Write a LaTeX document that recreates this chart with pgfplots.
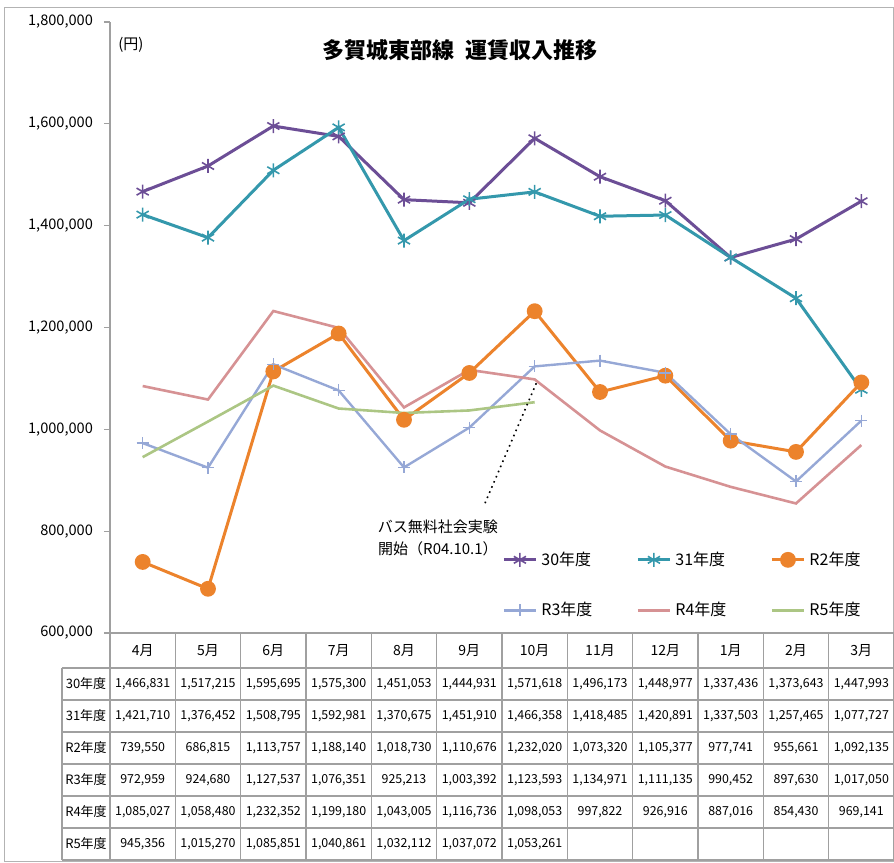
\documentclass[border=0pt]{standalone}
\usepackage{fontspec}
\setmainfont{Noto Sans CJK JP}
\usepackage{pgfplots}
\pgfplotsset{compat=1.18}
\usepackage{pgfplotstable}

\definecolor{c30}{RGB}{108,78,150}
\definecolor{c31}{RGB}{52,152,172}
\definecolor{cr2}{RGB}{236,131,44}
\definecolor{cr3}{RGB}{150,168,214}
\definecolor{cr4}{RGB}{214,146,148}
\definecolor{cr5}{RGB}{172,198,132}
\definecolor{grid}{RGB}{160,160,160}

\pgfplotstableread{
m y30 y31 r2 r3 r4 r5
1 1466831 1421710 739550 972959 1085027 945356
2 1517215 1376452 686815 924680 1058480 1015270
3 1595695 1508795 1113757 1127537 1232352 1085851
4 1575300 1592981 1188140 1076351 1199180 1040861
5 1451053 1370675 1018730 925213 1043005 1032112
6 1444931 1451910 1110676 1003392 1116736 1037072
7 1571618 1466358 1232020 1123593 1098053 1053261
8 1496173 1418485 1073320 1134971 997822 nan
9 1448977 1420891 1105377 1111135 926916 nan
10 1337436 1337503 977741 990452 887016 nan
11 1373643 1257465 955661 897630 854430 nan
12 1447993 1077727 1092135 1017050 969141 nan
}\datatable

\begin{document}
\begin{tikzpicture}
\useasboundingbox (-55pt,-114.5pt) rectangle (392pt,316.5pt);
\draw[grid!80, line width=0.5pt] (-52.5pt,-114pt) rectangle (391.7pt,312.5pt);
\begin{axis}[
  at={(0,0)}, anchor=south west, scale only axis,
  width=392pt, height=305.5pt,
  xmin=0.5, xmax=12.5, ymin=600000, ymax=1800000,
  axis x line=none, axis y line=left,
  axis line style={draw=grid, -, line width=0.6pt},
  ytick={600000,800000,1000000,1200000,1400000,1600000,1800000},
  xtick=\empty,
  tick align=outside, major tick length=3pt,
  tick style={draw=grid, line width=0.6pt},
  yticklabel style={font=\fontsize{7.3}{9}\selectfont, xshift=-2pt,
    /pgf/number format/1000 sep={,}, /pgf/number format/fixed,
    /pgf/number format/assume math mode=true},
  scaled y ticks=false,
  clip=false,
  legend columns=3,
  legend cell align=left,
  legend image code/.code={%
    \draw[mark repeat=2,mark phase=2] plot coordinates {(0pt,0pt) (8pt,0pt) (16pt,0pt)};},
  legend style={draw=none, fill=none, font=\fontsize{8}{9}\selectfont,
    at={(axis description cs:0.5,0)}, anchor=south west, yshift=5pt,
    inner sep=0pt, row sep=13pt,
    /tikz/every even column/.append style={column sep=20pt}},
]
\addplot[c30, line width=1.5pt, mark=asterisk, mark size=3.5pt, mark options={line width=0.8pt}] table[x=m, y=y30] {\datatable};
\addlegendentry{30年度}
\addplot[c31, line width=1.5pt, mark=asterisk, mark size=3.5pt, mark options={line width=0.8pt}] table[x=m, y=y31] {\datatable};
\addlegendentry{31年度}
\addplot[cr2, line width=1.5pt, mark=*, mark size=3.2pt, mark options={fill=cr2, draw=cr2}] table[x=m, y=r2] {\datatable};
\addlegendentry{R2年度}
\addplot[cr3, line width=1.2pt, mark=+, mark size=3pt, mark options={line width=0.8pt}] table[x=m, y=r3] {\datatable};
\addlegendentry{R3年度}
\addplot[cr4, line width=1.3pt] table[x=m, y=r4] {\datatable};
\addlegendentry{R4年度}
\addplot[cr5, line width=1.3pt] table[x=m, y=r5] {\datatable};
\addlegendentry{R5年度}
\draw[black, dotted, line width=0.8pt] (axis cs:6.24,855000) -- (axis cs:7.03,1092000);
\node[font=\fontsize{7.5}{11}\selectfont, align=center] at (axis cs:5.52,787000) {バス無料社会実験\\開始（R04.10.1）};
\end{axis}
% title and unit
\node[font=\bfseries\fontsize{11}{13}\selectfont] at (175pt,291.5pt) {多賀城東部線\ \ 運賃収入推移};
\node[font=\fontsize{7.5}{9}\selectfont, anchor=west, inner sep=0pt] at (4pt,294pt) {(円)};
% data table grid
\draw[grid, line width=0.6pt] (0,0) -- (392pt,0);
\foreach \yy in {-17.5,-33.5,-49.5,-65.5,-81.5,-97.5,-113.5}
  \draw[grid, line width=0.6pt] (-24pt,\yy pt) -- (392pt,\yy pt);
\foreach \k in {0,...,12}
  \draw[grid, line width=0.6pt] ({\k*32.667pt},0) -- ({\k*32.667pt},-113.5pt);
\draw[grid, line width=0.6pt] (-24pt,-17.5pt) -- (-24pt,-113.5pt);
% header
\foreach \v [count=\i] in {4月,5月,6月,7月,8月,9月,10月,11月,12月,1月,2月,3月}
  \node[font=\fontsize{7}{8}\selectfont] at ({(\i-0.5)*32.667pt},-8.75pt) {\v};
% row labels
\foreach \v [count=\r] in {30年度,31年度,R2年度,R3年度,R4年度,R5年度}
  \node[font=\fontsize{6.5}{7}\selectfont] at (-12pt,{-17.5pt-(\r-0.5)*16pt}) {\v};
% rows
\foreach \v [count=\i] in {{1,466,831},{1,517,215},{1,595,695},{1,575,300},{1,451,053},{1,444,931},{1,571,618},{1,496,173},{1,448,977},{1,337,436},{1,373,643},{1,447,993}}
  \node[font=\fontsize{6.2}{7}\selectfont] at ({(\i-0.5)*32.667pt},-25.5pt) {\v};
\foreach \v [count=\i] in {{1,421,710},{1,376,452},{1,508,795},{1,592,981},{1,370,675},{1,451,910},{1,466,358},{1,418,485},{1,420,891},{1,337,503},{1,257,465},{1,077,727}}
  \node[font=\fontsize{6.2}{7}\selectfont] at ({(\i-0.5)*32.667pt},-41.5pt) {\v};
\foreach \v [count=\i] in {{739,550},{686,815},{1,113,757},{1,188,140},{1,018,730},{1,110,676},{1,232,020},{1,073,320},{1,105,377},{977,741},{955,661},{1,092,135}}
  \node[font=\fontsize{6.2}{7}\selectfont] at ({(\i-0.5)*32.667pt},-57.5pt) {\v};
\foreach \v [count=\i] in {{972,959},{924,680},{1,127,537},{1,076,351},{925,213},{1,003,392},{1,123,593},{1,134,971},{1,111,135},{990,452},{897,630},{1,017,050}}
  \node[font=\fontsize{6.2}{7}\selectfont] at ({(\i-0.5)*32.667pt},-73.5pt) {\v};
\foreach \v [count=\i] in {{1,085,027},{1,058,480},{1,232,352},{1,199,180},{1,043,005},{1,116,736},{1,098,053},{997,822},{926,916},{887,016},{854,430},{969,141}}
  \node[font=\fontsize{6.2}{7}\selectfont] at ({(\i-0.5)*32.667pt},-89.5pt) {\v};
\foreach \v [count=\i] in {{945,356},{1,015,270},{1,085,851},{1,040,861},{1,032,112},{1,037,072},{1,053,261}}
  \node[font=\fontsize{6.2}{7}\selectfont] at ({(\i-0.5)*32.667pt},-105.5pt) {\v};
\end{tikzpicture}
\end{document}
